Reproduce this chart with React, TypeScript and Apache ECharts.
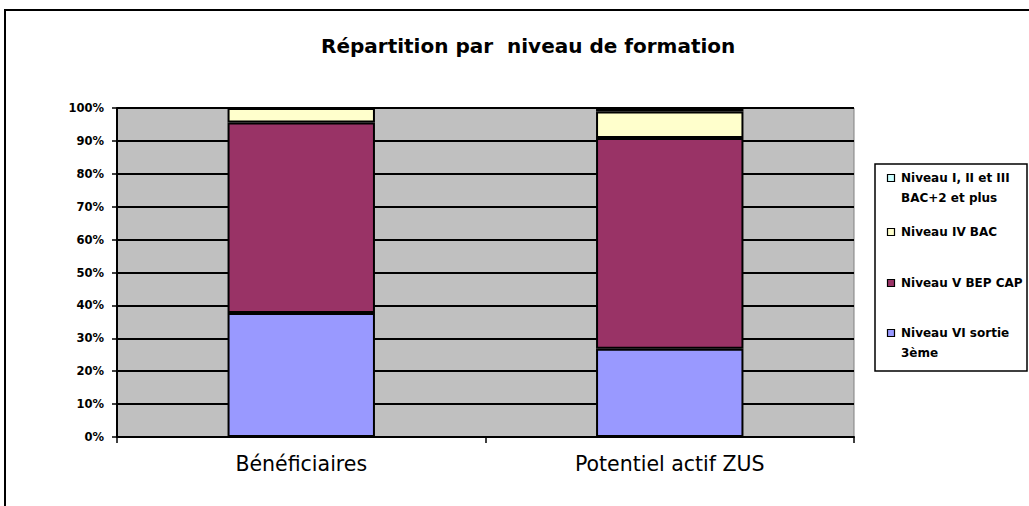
import React, { useEffect, useRef } from "react";
import * as echarts from "echarts";

const titleText = "Répartition par  niveau de formation";
const categories = ["Bénéficiaires", "Potentiel actif ZUS"];
const seriesNames = [
  "Niveau VI sortie\n3ème",
  "Niveau V BEP CAP",
  "Niveau IV BAC",
  "Niveau I, II et III\nBAC+2 et plus",
];
const niveauVI = [37.7, 26.8];
const niveauV = [57.9, 64.1];
const niveauIV = [4.4, 8.0];
const niveauI_III = [0, 1.1];
const seriesValues = [niveauVI, niveauV, niveauIV, niveauI_III];
const colors = ["#9999FF", "#993366", "#FFFFCC", "#CCFFFF"];

export default function App() {
  const ref = useRef<HTMLDivElement>(null);
  useEffect(() => {
    if (!ref.current) return;
    const chart = echarts.init(ref.current, null, { renderer: "svg" });

    // legend drawn top-to-bottom in reverse series order
    const legendTop = [178, 232, 283, 333];
    const legendEls: any[] = [
      {
        type: "rect",
        shape: { x: 875, y: 164, width: 152, height: 207 },
        style: { fill: "#ffffff", stroke: "#000000", lineWidth: 1.5 },
      },
    ];
    for (let k = 0; k < 4; k++) {
      const i = 3 - k;
      const yc = legendTop[k];
      legendEls.push({
        type: "rect",
        shape: { x: 887.5, y: yc - 3.5, width: 7, height: 7 },
        style: { fill: colors[i], stroke: "#000000", lineWidth: 1.2 },
      });
      legendEls.push({
        type: "text",
        x: 901,
        y: yc - 10,
        style: {
          text: seriesNames[i],
          font: "bold 12px 'DejaVu Sans'",
          fill: "#000000",
          lineHeight: 20,
          verticalAlign: "top",
          align: "left",
        },
      });
    }

    chart.setOption({
      animation: false,
      title: {
        text: titleText,
        left: 316,
        top: 31,
        textStyle: {
          fontFamily: "DejaVu Sans",
          fontWeight: "bold",
          fontSize: 20,
          color: "#000000",
        },
      },
      grid: {
        left: 117,
        right: 175,
        top: 108,
        bottom: 69,
        show: true,
        backgroundColor: "#C0C0C0",
        borderColor: "#808080",
        borderWidth: 1,
      },
      xAxis: {
        type: "category",
        data: categories,
        axisLine: { lineStyle: { color: "#000000", width: 2 } },
        axisTick: { show: true, length: 6, lineStyle: { color: "#000000", width: 1.5 } },
        axisLabel: {
          margin: 16,
          fontFamily: "DejaVu Sans",
          fontSize: 20.5,
          color: "#000000",
        },
      },
      yAxis: {
        type: "value",
        min: 0,
        max: 100,
        interval: 10,
        axisLine: { show: true, lineStyle: { color: "#000000", width: 2 } },
        axisTick: { show: true, length: 5, lineStyle: { color: "#000000", width: 1.5 } },
        axisLabel: {
          formatter: "{value}%",
          margin: 13,
          fontFamily: "DejaVu Sans",
          fontWeight: "bold",
          fontSize: 11.5,
          color: "#000000",
        },
        splitLine: { show: true, lineStyle: { color: "#000000", width: 2 } },
      },
      series: seriesValues.map((vals, i) => ({
        name: seriesNames[i],
        type: "bar",
        stack: "total",
        barWidth: "40%",
        data: vals,
        itemStyle: { color: colors[i], borderColor: "#000000", borderWidth: 2 },
      })),
      graphic: [
        {
          type: "rect",
          silent: true,
          shape: { x: 5, y: 10, width: 1200, height: 700 },
          style: { fill: "none", stroke: "#000000", lineWidth: 2 },
        },
        ...legendEls,
      ],
    });
    return () => chart.dispose();
  }, []);
  return (
    <div
      ref={ref}
      style={{ position: "fixed", left: 0, top: 0, width: 1029, height: 506, background: "#ffffff" }}
    />
  );
}
